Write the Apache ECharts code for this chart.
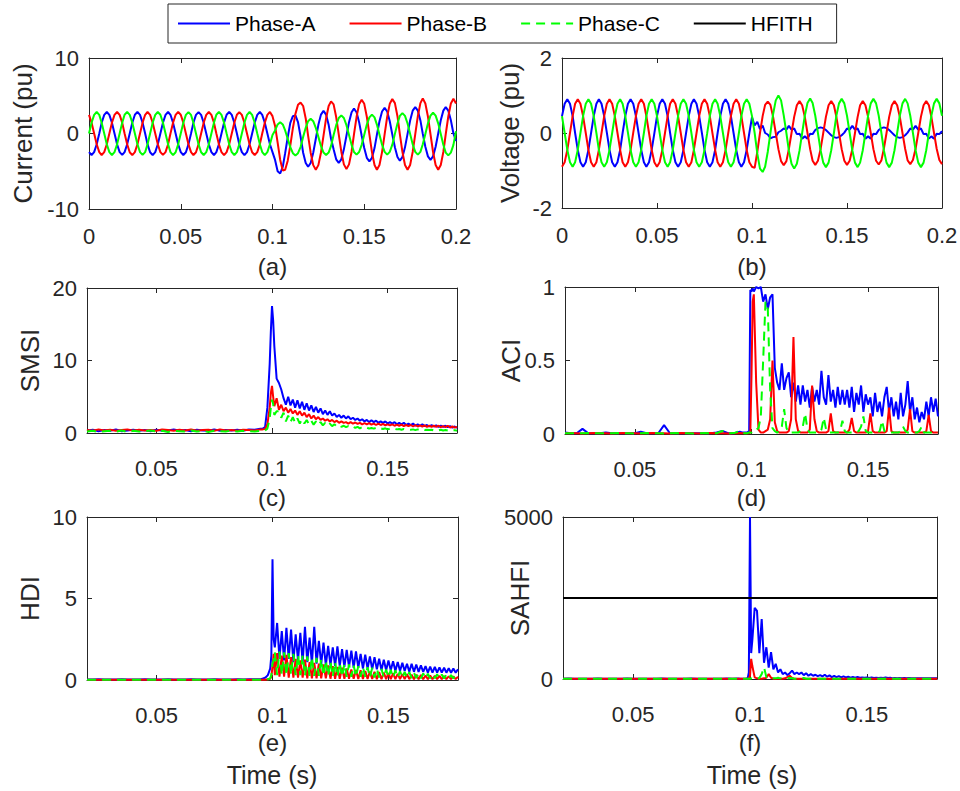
<!DOCTYPE html>
<html><head><meta charset="utf-8">
<script src="https://cdn.jsdelivr.net/npm/echarts@6/dist/echarts.min.js"></script>
<style>html,body{margin:0;padding:0;background:#fff}#c{width:960px;height:791px}</style>
</head><body><div id="c"></div>
<script>
// ---------- DATA ----------
const seriesNames = ['Phase-A','Phase-B','Phase-C','HFITH'];
const panelLabels = ['(a)','(b)','(c)','(d)','(e)','(f)'];
const yTitles = ['Current (pu)','Voltage (pu)','SMSI','ACI','HDI','SAHFI'];

// time samples for waveforms (s)
const tWave = [0,.0014,.0028,.0042,.0056,.0069,.0083,.0097,.0111,.0125,.0139,.0153,
.0167,.0181,.0194,.0208,.0222,.0236,.025,.0264,.0278,.0292,.0306,.0319,
.0333,.0347,.0361,.0375,.0389,.0403,.0417,.0431,.0444,.0458,.0472,.0486,
.05,.0514,.0528,.0542,.0556,.0569,.0583,.0597,.0611,.0625,.0639,.0653,
.0667,.0681,.0694,.0708,.0722,.0736,.075,.0764,.0778,.0792,.0806,.0819,
.0833,.0847,.0861,.0875,.0889,.0903,.0917,.0931,.0944,.0958,.0972,.0986,
.1,.1014,.1028,.1042,.1056,.1069,.1083,.1097,.1111,.1125,.1139,.1153,
.1167,.1181,.1194,.1208,.1222,.1236,.125,.1264,.1278,.1292,.1306,.1319,
.1333,.1347,.1361,.1375,.1389,.1403,.1417,.1431,.1444,.1458,.1472,.1486,
.15,.1514,.1528,.1542,.1556,.1569,.1583,.1597,.1611,.1625,.1639,.1653,
.1667,.1681,.1694,.1708,.1722,.1736,.175,.1764,.1778,.1792,.1806,.1819,
.1833,.1847,.1861,.1875,.1889,.1903,.1917,.1931,.1944,.1958,.1972,.1986,
.2];

const currentA = [-2.47,-2.85,-2.47,-1.43,0,1.43,2.47,2.85,2.47,1.43,0,-1.43,
-2.46,-2.84,-2.46,-1.42,0.01,1.43,2.48,2.86,2.47,1.42,0,-1.44,
-2.48,-2.86,-2.47,-1.43,0,1.42,2.46,2.85,2.48,1.43,0.01,-1.43,
-2.47,-2.85,-2.48,-1.44,-0.01,1.43,2.47,2.84,2.46,1.42,0,-1.42,
-2.46,-2.85,-2.47,-1.43,0,1.44,2.48,2.86,2.47,1.43,0,-1.43,
-2.47,-2.86,-2.46,-1.42,0.01,1.43,2.47,2.85,2.47,1.44,0.01,-1.43,
-2.47,-3.5,-5.0,-5.3,-4.4,-2.6,-0.5,1.4,2.3,2.4,1.5,-0.4,
-2.55,-3.9,-4.4,-3.9,-2.55,-0.7,1.15,2.5,3.0,2.5,1.15,-0.7,
-2.1,-3.42,-3.9,-3.42,-2.1,-0.3,1.5,2.82,3.3,2.82,1.5,-0.3,
-1.93,-3.22,-3.7,-3.22,-1.93,-0.15,1.63,2.92,3.4,2.92,1.63,-0.15,
-1.83,-3.12,-3.6,-3.12,-1.83,-0.05,1.73,3.02,3.5,3.02,1.73,-0.05,
-1.75,-3.03,-3.5,-3.03,-1.75,0,1.75,3.03,3.5,3.03,1.75,0,
-1.0];
const currentB = [2.47,1.43,0,-1.43,-2.47,-2.85,-2.47,-1.43,0,1.43,2.47,2.85,
2.46,1.42,0.01,-1.43,-2.48,-2.86,-2.47,-1.42,0,1.44,2.48,2.85,
2.47,1.43,0,-1.42,-2.46,-2.84,-2.47,-1.43,0.01,1.43,2.46,2.86,
2.48,1.44,0,-1.43,-2.47,-2.85,-2.48,-1.43,0,1.42,2.47,2.85,
2.47,1.43,-0.01,-1.44,-2.47,-2.86,-2.46,-1.42,0,1.43,2.48,2.84,
2.46,1.42,0,-1.43,-2.48,-2.85,-2.47,-1.44,0.01,1.43,2.47,2.86,
2.3,1.0,-1.2,-3.5,-4.9,-4.8,-3.6,-1.6,0.7,2.6,3.8,4.1,
3.64,1.99,-0.28,-2.54,-4.19,-4.8,-4.19,-2.54,-0.28,1.99,3.64,4.25,
3.86,2.18,-0.12,-2.41,-4.09,-4.7,-4.09,-2.41,-0.12,2.18,3.86,4.47,
3.93,2.22,-0.12,-2.46,-4.17,-4.8,-4.17,-2.46,-0.12,2.22,3.93,4.56,
4.02,2.29,-0.08,-2.44,-4.17,-4.8,-4.17,-2.44,-0.08,2.29,4.02,4.65,
3.97,2.25,-0.1,-2.45,-4.17,-4.8,-4.17,-2.45,-0.1,2.25,3.97,4.6,
3.97];
const currentC = [0,1.43,2.47,2.85,2.47,1.43,0,-1.43,-2.47,-2.85,-2.47,-1.43,
0.01,1.44,2.48,2.86,2.47,1.42,0,-1.43,-2.46,-2.84,-2.47,-1.42,
0,1.42,2.46,2.85,2.48,1.43,0.01,-1.42,-2.47,-2.86,-2.48,-1.44,
-0.01,1.43,2.47,2.84,2.46,1.43,0,-1.44,-2.48,-2.85,-2.46,-1.43,
0,1.44,2.48,2.86,2.47,1.42,-0.01,-1.43,-2.47,-2.85,-2.47,-1.42,
0.01,1.43,2.47,2.85,2.46,1.43,0,-1.42,-2.46,-2.86,-2.47,-1.43,
-0.2,0.4,1.2,1.5,1.2,0.4,-0.7,-1.8,-2.6,-2.9,-2.6,-1.8,
-0.45,0.75,1.63,1.95,1.63,0.75,-0.45,-1.65,-2.53,-2.85,-2.53,-1.65,
-0.2,1.1,2.05,2.4,2.05,1.1,-0.2,-1.5,-2.45,-2.8,-2.45,-1.5,
-0.15,1.18,2.14,2.5,2.14,1.18,-0.15,-1.48,-2.44,-2.8,-2.44,-1.48,
-0.05,1.33,2.33,2.7,2.33,1.33,-0.05,-1.43,-2.43,-2.8,-2.43,-1.43,
-0.08,1.34,2.37,2.75,2.37,1.34,-0.08,-1.5,-2.53,-2.9,-2.53,-1.5,
0.3];

const voltageA = [0.45,0.78,0.9,0.78,0.45,0,-0.45,-0.78,-0.9,-0.78,-0.45,0,
0.45,0.78,0.9,0.78,0.45,0.01,-0.45,-0.78,-0.9,-0.78,-0.45,0,
0.45,0.78,0.9,0.78,0.45,0,-0.45,-0.78,-0.9,-0.78,-0.45,-0.01,
0.45,0.78,0.9,0.78,0.45,0,-0.45,-0.78,-0.9,-0.78,-0.45,0,
0.45,0.78,0.9,0.78,0.45,0.01,-0.45,-0.78,-0.9,-0.78,-0.45,0,
0.45,0.78,0.9,0.78,0.45,0,-0.45,-0.78,-0.9,-0.78,-0.45,0,
0.42,0.2,0.3,0.1,0.2,0.0,-0.04,-0.14,-0.11,-0.1,0.02,0.06,
0.12,0.09,0.19,0.09,0.12,-0.03,-0.02,-0.15,-0.09,-0.15,-0.02,-0.03,
0.08,0.13,0.15,0.13,0.08,0.01,-0.06,-0.11,-0.13,-0.11,-0.06,0.01,
0.12,0.09,0.19,0.09,0.12,-0.03,-0.02,-0.15,-0.09,-0.15,-0.02,-0.03,
0.08,0.13,0.15,0.13,0.08,0.01,-0.06,-0.11,-0.13,-0.11,-0.06,0.01,
0.12,0.09,0.19,0.09,0.12,-0.03,-0.02,-0.15,-0.09,-0.15,-0.02,-0.03,
0.05];
const voltageB = [-0.9,-0.78,-0.45,0,0.45,0.78,0.9,0.78,0.45,0,-0.45,-0.78,
-0.9,-0.78,-0.45,0,0.45,0.78,0.9,0.78,0.45,0,-0.45,-0.78,
-0.9,-0.78,-0.45,0.01,0.45,0.78,0.9,0.78,0.45,0,-0.45,-0.78,
-0.9,-0.78,-0.45,0,0.45,0.78,0.9,0.78,0.45,0,-0.45,-0.78,
-0.9,-0.78,-0.45,0,0.45,0.78,0.9,0.78,0.45,-0.01,-0.45,-0.78,
-0.9,-0.78,-0.45,0,0.45,0.78,0.9,0.78,0.45,0,-0.45,-0.78,
-0.9,-0.93,-0.5,0,0.45,0.75,0.84,0.75,0.43,0,-0.43,-0.75,
-0.86,-0.75,-0.43,0,0.43,0.74,0.85,0.74,0.43,0,-0.43,-0.74,
-0.85,-0.74,-0.43,0,0.43,0.74,0.85,0.74,0.43,0,-0.43,-0.74,
-0.85,-0.74,-0.43,0,0.43,0.74,0.85,0.74,0.43,0,-0.43,-0.74,
-0.84,-0.73,-0.42,0,0.43,0.74,0.85,0.74,0.43,0,-0.42,-0.73,
-0.83,-0.72,-0.42,0,0.43,0.74,0.85,0.74,0.43,0,-0.42,-0.72,
-0.83];
const voltageC = [0.45,0,-0.45,-0.78,-0.9,-0.78,-0.45,0,0.45,0.78,0.9,0.78,
0.45,0,-0.45,-0.78,-0.9,-0.78,-0.45,0,0.45,0.78,0.9,0.78,
0.45,0.01,-0.45,-0.78,-0.9,-0.78,-0.45,0,0.45,0.78,0.9,0.78,
0.45,0,-0.45,-0.78,-0.9,-0.78,-0.45,0,0.45,0.78,0.9,0.78,
0.45,0,-0.45,-0.78,-0.9,-0.78,-0.45,-0.01,0.45,0.78,0.9,0.78,
0.45,0,-0.45,-0.78,-0.9,-0.78,-0.45,0,0.45,0.78,0.9,0.78,
0.45,0,-0.55,-0.95,-1.04,-0.9,-0.5,0,0.5,0.87,1.0,0.87,
0.47,0,-0.47,-0.82,-0.95,-0.82,-0.47,0,0.46,0.8,0.92,0.8,
0.46,0,-0.46,-0.79,-0.91,-0.79,-0.46,0,0.46,0.79,0.91,0.79,
0.46,0,-0.46,-0.79,-0.91,-0.79,-0.46,0,0.46,0.79,0.91,0.79,
0.46,0,-0.46,-0.79,-0.91,-0.79,-0.46,0,0.46,0.79,0.91,0.79,
0.46,0,-0.46,-0.79,-0.91,-0.79,-0.46,0,0.46,0.79,0.91,0.79,
0.46];

// time samples for the indices (s)
const tIdx = [0.02,0.0225,0.025,0.0275,0.03,0.0325,0.035,0.0375,0.04,0.0425,
0.045,0.0475,0.05,0.0525,0.055,0.0575,0.06,0.0625,0.065,0.0675,
0.07,0.0725,0.075,0.0775,0.08,0.0825,0.085,0.0875,0.09,0.0925,
0.095,
0.096,0.097,0.098,0.099,0.0995,0.1,0.1005,
0.101,0.102,0.103,0.104,0.105,0.106,0.107,0.108,0.109,0.110,
0.111,0.112,0.113,0.114,0.115,0.116,0.117,0.118,0.119,0.120,
0.121,0.122,0.123,0.124,0.125,0.126,0.127,0.128,0.129,0.130,
0.131,0.132,0.133,0.134,0.135,0.136,0.137,0.138,0.139,0.140,
0.141,0.142,0.143,0.144,0.145,0.146,0.147,0.148,0.149,0.150,
0.151,0.152,0.153,0.154,0.155,0.156,0.157,0.158,0.159,0.160,
0.161,0.162,0.163,0.164,0.165,0.166,0.167,0.168,0.169,0.170,
0.171,0.172,0.173,0.174,0.175,0.176,0.177,0.178,0.179,0.180];

const smsiA = [0.3,0.45,0.25,0.4,0.3,0.5,0.25,0.35,0.45,0.3,
0.4,0.25,0.45,0.3,0.35,0.5,0.3,0.4,0.25,0.45,
0.35,0.3,0.5,0.3,0.4,0.35,0.45,0.3,0.5,0.45,
0.6,
0.6,0.8,3.5,9.5,14.0,17.5,15.5,
12.0,7.5,6.9,6.0,4.8,3.9,5.0,3.8,4.6,3.5,
4.5,3.4,4.3,3.2,4.1,3.1,3.8,2.9,3.6,2.8,
3.4,2.6,3.1,2.5,3.0,2.4,2.7,2.2,2.5,2.1,
2.4,2.0,2.3,1.9,2.1,1.8,2.0,1.7,1.9,1.6,
1.8,1.5,1.75,1.5,1.7,1.4,1.6,1.4,1.6,1.3,
1.5,1.3,1.5,1.2,1.4,1.2,1.4,1.1,1.3,1.1,
1.3,1.0,1.2,1.0,1.2,0.95,1.1,0.9,1.1,0.9,
1.05,0.85,1.0,0.85,1.0,0.8,0.95,0.75,0.9,0.7];
const smsiB = [0.4,0.3,0.5,0.35,0.45,0.3,0.4,0.5,0.3,0.45,
0.35,0.4,0.3,0.5,0.4,0.3,0.45,0.35,0.5,0.3,
0.4,0.45,0.3,0.5,0.35,0.4,0.3,0.45,0.4,0.35,
0.5,
0.5,0.55,1.2,3.5,5.5,6.5,5.0,
3.7,4.8,3.2,3.9,3.0,3.5,2.8,3.3,2.7,3.1,
2.5,3.0,2.4,2.8,2.2,2.6,2.0,2.4,1.9,2.2,
1.8,2.0,1.7,1.9,1.6,1.8,1.5,1.7,1.4,1.6,
1.4,1.5,1.3,1.5,1.3,1.45,1.25,1.4,1.2,1.35,
1.2,1.35,1.15,1.3,1.1,1.3,1.1,1.25,1.05,1.2,
1.05,1.2,1.0,1.15,1.0,1.15,0.95,1.1,0.95,1.1,
0.9,1.1,0.9,1.05,0.9,1.05,0.85,1.0,0.85,1.0,
0.85,1.0,0.8,0.95,0.8,1.0,0.75,0.9,0.75,0.85];
const smsiC = [0.2,0.3,0.15,0.25,0.3,0.2,0.35,0.15,0.3,0.2,
0.25,0.35,0.2,0.3,0.15,0.3,0.25,0.2,0.35,0.2,
0.3,0.15,0.3,0.25,0.2,0.35,0.2,0.3,0.25,0.2,
0.3,
0.3,0.35,0.6,2.0,3.5,4.6,4.0,
2.5,3.0,3.0,2.1,2.8,1.6,2.4,1.5,2.2,1.4,
2.0,1.3,1.9,1.3,1.8,1.2,1.7,1.15,1.6,1.1,
1.5,1.05,1.4,1.0,1.3,0.95,1.2,0.9,1.1,0.85,
1.0,0.8,0.95,0.75,0.9,0.7,0.85,0.65,0.8,0.65,
0.75,0.6,0.7,0.6,0.7,0.55,0.65,0.55,0.65,0.5,
0.6,0.5,0.6,0.5,0.55,0.45,0.55,0.45,0.5,0.45,
0.5,0.4,0.5,0.4,0.5,0.4,0.45,0.4,0.45,0.35,
0.45,0.35,0.45,0.35,0.4,0.35,0.4,0.3,0.4,0.3];

const aciA = [0.01,0.005,0.005,0.035,0.005,0.005,0.005,0.01,0.005,0.005,
0.005,0.005,0.005,0.015,0.005,0.005,0.005,0.06,0.005,0.005,
0.005,0.005,0.005,0.005,0.005,0.005,0.01,0.02,0.005,0.005,
0.015,
0.01,0.01,0.01,0.02,0.98,0.97,0.99,
0.97,1.0,0.99,1.0,0.9,0.95,0.85,0.93,0.95,0.45,
0.35,0.3,0.48,0.3,0.38,0.42,0.25,0.35,0.22,0.33,
0.2,0.33,0.22,0.3,0.18,0.32,0.22,0.3,0.2,0.43,
0.25,0.2,0.4,0.22,0.3,0.18,0.32,0.2,0.3,0.2,
0.3,0.18,0.32,0.15,0.28,0.2,0.33,0.15,0.27,0.2,
0.25,0.12,0.28,0.15,0.22,0.12,0.25,0.32,0.15,0.25,
0.12,0.22,0.1,0.28,0.12,0.2,0.36,0.15,0.25,0.1,
0.18,0.08,0.15,0.1,0.22,0.12,0.25,0.15,0.24,0.12];
const aciB = [0.005,0.006,0.005,0.004,0.005,0.006,0.005,0.005,0.004,0.005,
0.006,0.005,0.005,0.004,0.005,0.006,0.005,0.005,0.004,0.005,
0.006,0.005,0.005,0.004,0.005,0.006,0.005,0.005,0.004,0.005,
0.006,
0.005,0.005,0.005,0.005,0.01,0.4,0.9,
0.95,0.35,0.03,0.01,0.01,0.02,0.03,0.1,0.5,0.08,
0.02,0.01,0.01,0.01,0.01,0.02,0.1,0.66,0.1,0.02,
0.01,0.01,0.01,0.01,0.03,0.33,0.1,0.02,0.01,0.01,
0.01,0.01,0.02,0.14,0.02,0.01,0.01,0.01,0.01,0.01,
0.01,0.03,0.11,0.02,0.01,0.01,0.01,0.01,0.01,0.02,
0.14,0.02,0.01,0.01,0.01,0.01,0.01,0.02,0.18,0.02,
0.01,0.01,0.01,0.01,0.01,0.01,0.03,0.17,0.02,0.01,
0.01,0.01,0.01,0.01,0.02,0.13,0.02,0.01,0.01,0.01];
const aciC = [0.005,0.005,0.004,0.005,0.006,0.005,0.005,0.004,0.005,0.006,
0.005,0.005,0.004,0.005,0.006,0.005,0.005,0.004,0.005,0.006,
0.005,0.005,0.004,0.005,0.006,0.005,0.005,0.02,0.005,0.006,
0.02,
0.01,0.005,0.005,0.01,0.01,0.01,0.02,
0.03,0.03,0.04,0.12,0.5,0.9,0.85,0.3,0.04,0.02,
0.01,0.02,0.05,0.17,0.04,0.01,0.01,0.01,0.01,0.01,
0.02,0.05,0.14,0.03,0.01,0.01,0.01,0.01,0.01,0.03,
0.11,0.03,0.01,0.01,0.01,0.01,0.01,0.02,0.09,0.02,
0.01,0.01,0.01,0.01,0.01,0.02,0.05,0.12,0.02,0.01,
0.01,0.01,0.01,0.01,0.02,0.09,0.02,0.01,0.01,0.01,
0.01,0.01,0.01,0.02,0.05,0.02,0.01,0.01,0.01,0.01,
0.01,0.02,0.05,0.01,0.01,0.01,0.01,0.01,0.01,0.01];

const hdiA = [0.03,0.03,0.04,0.03,0.03,0.03,0.04,0.03,0.03,0.03,
0.04,0.03,0.03,0.03,0.04,0.03,0.03,0.03,0.04,0.03,
0.03,0.03,0.04,0.03,0.03,0.03,0.04,0.03,0.04,0.04,
0.05,
0.1,0.15,0.3,0.7,1.5,7.4,2.5,
2.0,3.5,1.3,3.0,1.2,3.2,1.3,3.1,1.1,2.8,
1.2,2.9,1.1,3.26,1.1,2.6,1.0,3.26,1.0,2.4,
0.95,2.3,0.9,2.1,0.9,2.0,0.85,2.06,0.85,1.9,
0.8,1.85,0.8,1.8,0.75,1.75,0.75,1.6,0.7,1.55,
0.7,1.45,0.65,1.4,0.65,1.3,0.6,1.25,0.6,1.2,
0.6,1.15,0.55,1.1,0.55,1.05,0.55,1.0,0.5,1.0,
0.5,0.95,0.5,0.9,0.5,0.85,0.45,0.82,0.45,0.8,
0.45,0.78,0.45,0.75,0.45,0.72,0.45,0.7,0.45,0.66];
const hdiB = [0.02,0.02,0.02,0.02,0.02,0.02,0.02,0.02,0.02,0.02,
0.02,0.02,0.02,0.02,0.02,0.02,0.02,0.02,0.02,0.02,
0.02,0.02,0.02,0.02,0.02,0.02,0.02,0.02,0.02,0.02,
0.02,
0.02,0.02,0.04,0.08,0.2,0.8,1.6,
0.3,1.65,0.2,1.5,0.2,1.55,0.15,1.4,0.15,1.3,
0.15,1.2,0.15,1.25,0.1,1.1,0.1,1.05,0.1,1.0,
0.1,0.95,0.1,0.9,0.08,0.85,0.08,0.8,0.08,0.75,
0.08,0.7,0.07,0.65,0.07,0.62,0.06,0.6,0.06,0.55,
0.06,0.52,0.06,0.5,0.05,0.48,0.05,0.45,0.05,0.42,
0.05,0.4,0.05,0.38,0.05,0.36,0.05,0.35,0.05,0.33,
0.05,0.32,0.05,0.3,0.05,0.28,0.05,0.27,0.05,0.26,
0.05,0.25,0.05,0.24,0.05,0.23,0.05,0.22,0.05,0.2];
const hdiC = [0.02,0.02,0.02,0.02,0.02,0.02,0.02,0.02,0.02,0.02,
0.02,0.02,0.02,0.02,0.02,0.02,0.02,0.02,0.02,0.02,
0.02,0.02,0.02,0.02,0.02,0.02,0.02,0.02,0.02,0.02,
0.02,
0.02,0.03,0.05,0.1,0.3,1.0,1.2,
1.7,0.3,1.75,0.3,1.7,0.3,1.65,0.3,1.6,0.3,
1.55,0.3,1.5,0.25,1.45,0.25,1.4,0.25,1.35,0.25,
1.3,0.25,1.2,0.25,1.15,0.2,1.1,0.2,1.05,0.2,
1.0,0.2,0.95,0.2,0.9,0.2,0.85,0.2,0.8,0.2,
0.78,0.15,0.75,0.15,0.7,0.15,0.68,0.15,0.65,0.15,
0.62,0.15,0.6,0.15,0.55,0.12,0.5,0.12,0.48,0.12,
0.45,0.12,0.42,0.1,0.4,0.1,0.38,0.1,0.36,0.1,
0.35,0.1,0.33,0.1,0.32,0.1,0.3,0.1,0.3,0.1];

const sahfiA = [10,12,9,11,10,8,12,10,9,11,
10,12,9,10,11,10,8,12,10,9,
11,10,12,9,10,11,10,8,12,10,
12,
10,10,10,20,200,5000,800,
1200,2200,2100,800,1850,500,980,350,830,300,
470,200,300,150,200,120,180,260,150,200,
150,200,120,180,100,150,100,130,90,120,
80,130,70,110,60,100,60,90,50,80,
50,70,40,60,40,60,40,50,40,50,
30,50,30,40,30,40,30,50,30,40,
20,30,20,30,20,30,20,30,20,25,
20,25,20,25,20,20,20,20,20,20];
const sahfiB = [5,5,5,5,5,5,5,5,5,5,
5,5,5,5,5,5,5,5,5,5,
5,5,5,5,5,5,5,5,5,5,
5,
5,5,5,5,10,100,620,
400,50,20,10,10,20,40,150,40,10,
10,10,10,10,20,60,100,30,10,10,
5,5,10,5,5,5,10,5,5,5,
5,5,5,5,5,5,5,5,5,5,
5,5,5,5,5,5,5,5,5,5,
5,5,5,5,5,5,5,5,5,5,
5,5,5,5,5,5,5,5,5,5,
5,5,5,5,5,5,5,5,5,5];
const sahfiC = [5,5,5,5,5,5,5,5,5,5,
5,5,5,5,5,5,5,5,5,5,
5,5,5,5,5,5,5,5,5,5,
5,
5,5,5,5,5,10,20,
10,10,10,30,150,360,60,20,30,20,
20,40,20,10,10,20,30,20,10,10,
10,20,30,10,10,10,20,10,10,10,
10,5,10,5,5,10,5,5,5,5,
5,5,5,5,5,5,5,5,5,5,
5,5,5,5,5,5,5,5,5,5,
5,5,5,5,5,5,5,5,5,5,
5,5,5,5,5,5,5,5,5,5];

const tThreshold = [0.02, 0.18];
const hfith = [2500, 2500];

// ---------- CHART ----------
const COL = {A:'#0000FF', B:'#FF0000', C:'#00FF00', H:'#000000'};
const AX = '#262626';
const FONT = '"Liberation Sans", Arial, Helvetica, sans-serif';
const DASH = [9, 6];

const panels = [
  {grid:{left:89, top:58, width:367, height:151}, xr:{min:0,max:0.2,interval:0.05}, yr:{min:-10,max:10,interval:10}, yGap:53, xGap:45, xm:16},
  {grid:{left:562, top:58, width:380, height:150}, xr:{min:0,max:0.2,interval:0.05}, yr:{min:-2,max:2,interval:2}, yGap:39, xGap:46, xm:16},
  {grid:{left:87, top:288, width:370, height:145}, xr:{min:0.02,max:0.18,custom:[0.05,0.1,0.15]}, yr:{min:0,max:20,interval:10}, yGap:44, xGap:52, xm:24},
  {grid:{left:565, top:287, width:373, height:147}, xr:{min:0.02,max:0.18,custom:[0.05,0.1,0.15]}, yr:{min:0,max:1,interval:0.5}, yGap:41, xGap:51, xm:24},
  {grid:{left:87, top:517, width:371, height:163}, xr:{min:0.02,max:0.18,custom:[0.05,0.1,0.15]}, yr:{min:0,max:10,interval:5}, yGap:44, xGap:50, xm:24},
  {grid:{left:563, top:517, width:374, height:162}, xr:{min:0.02,max:0.18,custom:[0.05,0.1,0.15]}, yr:{min:0,max:5000,interval:5000}, yGap:30, xGap:51, xm:24}
];

const fmt = v => String(Math.round(v * 10000) / 10000);
const grid = [], xAxis = [], yAxis = [];
panels.forEach((p, i) => {
  grid.push(Object.assign({outerBoundsMode:'none', containLabel:false}, p.grid));
  const base = (r, pos, showLabel) => {
    const a = {
      type:'value', gridIndex:i, position:pos, min:r.min, max:r.max,
      nameMoveOverlap:false,
      axisLine:{show:true, onZero:false, lineStyle:{color:AX, width:1}},
      axisTick:{show:true, inside:true, length:5, lineStyle:{color:AX, width:1}},
      axisLabel:{show:showLabel, fontSize:22, color:AX, fontFamily:FONT, formatter:fmt},
      splitLine:{show:false}
    };
    if (r.interval != null) a.interval = r.interval;
    if (r.custom) { a.axisTick.customValues = r.custom; a.axisLabel.customValues = r.custom; }
    return a;
  };
  const xb = base(p.xr, 'bottom', true);
  xb.axisLabel.margin = p.xm;
  xb.name = panelLabels[i]; xb.nameLocation = 'middle'; xb.nameGap = p.xGap;
  xb.nameTextStyle = {fontSize:24, color:AX, fontFamily:FONT};
  xAxis.push(xb);
  xAxis.push(base(p.xr, 'top', false));
  const yl = base(p.yr, 'left', true);
  yl.axisLabel.margin = 10;
  yl.name = yTitles[i]; yl.nameLocation = 'middle'; yl.nameGap = p.yGap;
  yl.nameTextStyle = {fontSize:26, color:AX, fontFamily:FONT};
  yAxis.push(yl);
  yAxis.push(base(p.yr, 'right', false));
});

function line(name, color, xs, ys, panel, dashed) {
  return {
    type:'line', name, xAxisIndex:panel*2, yAxisIndex:panel*2,
    data: xs.map((t, k) => [t, ys[k]]),
    showSymbol:false, symbol:'none', silent:true, animation:false,
    lineStyle:{color, width:2, type: dashed ? DASH : 'solid'},
    itemStyle:{color}
  };
}

const series = [
  // panels with dashed Phase-C first so the legend uses the dashed style
  line('Phase-A', COL.A, tIdx, smsiA, 2), line('Phase-B', COL.B, tIdx, smsiB, 2), line('Phase-C', COL.C, tIdx, smsiC, 2, true),
  line('Phase-A', COL.A, tIdx, aciA, 3), line('Phase-B', COL.B, tIdx, aciB, 3), line('Phase-C', COL.C, tIdx, aciC, 3, true),
  line('Phase-A', COL.A, tIdx, hdiA, 4), line('Phase-B', COL.B, tIdx, hdiB, 4), line('Phase-C', COL.C, tIdx, hdiC, 4, true),
  line('Phase-A', COL.A, tIdx, sahfiA, 5), line('Phase-B', COL.B, tIdx, sahfiB, 5), line('Phase-C', COL.C, tIdx, sahfiC, 5, true),
  line('HFITH', COL.H, tThreshold, hfith, 5),
  line('Phase-A', COL.A, tWave, currentA, 0), line('Phase-B', COL.B, tWave, currentB, 0), line('Phase-C', COL.C, tWave, currentC, 0),
  line('Phase-A', COL.A, tWave, voltageA, 1), line('Phase-B', COL.B, tWave, voltageB, 1), line('Phase-C', COL.C, tWave, voltageC, 1)
];

const chart = echarts.init(document.getElementById('c'), null, {renderer:'svg', width:960, height:791});
chart.setOption({
  animation:false,
  backgroundColor:'#ffffff',
  textStyle:{fontFamily:FONT},
  legend:{
    data:[
      {name:'Phase-A'}, {name:'Phase-B'},
      {name:'Phase-C', lineStyle:{type:DASH}}, {name:'HFITH'}
    ],
    left:168, top:4, orient:'horizontal',
    itemWidth:52, itemHeight:14, itemGap:33,
    padding:[9,24,9,9],
    itemStyle:{opacity:0},
    borderColor:AX, borderWidth:1, backgroundColor:'#fff',
    selectedMode:false,
    textStyle:{fontSize:21, color:'#000', fontFamily:FONT}
  },
  grid, xAxis, yAxis, series,
  graphic:[
    {type:'text', x:272, y:775, style:{text:'Time (s)', align:'center', verticalAlign:'middle', fontSize:25, fontFamily:FONT, fill:AX}},
    {type:'text', x:752, y:775, style:{text:'Time (s)', align:'center', verticalAlign:'middle', fontSize:25, fontFamily:FONT, fill:AX}}
  ]
});
</script>
</body></html>
